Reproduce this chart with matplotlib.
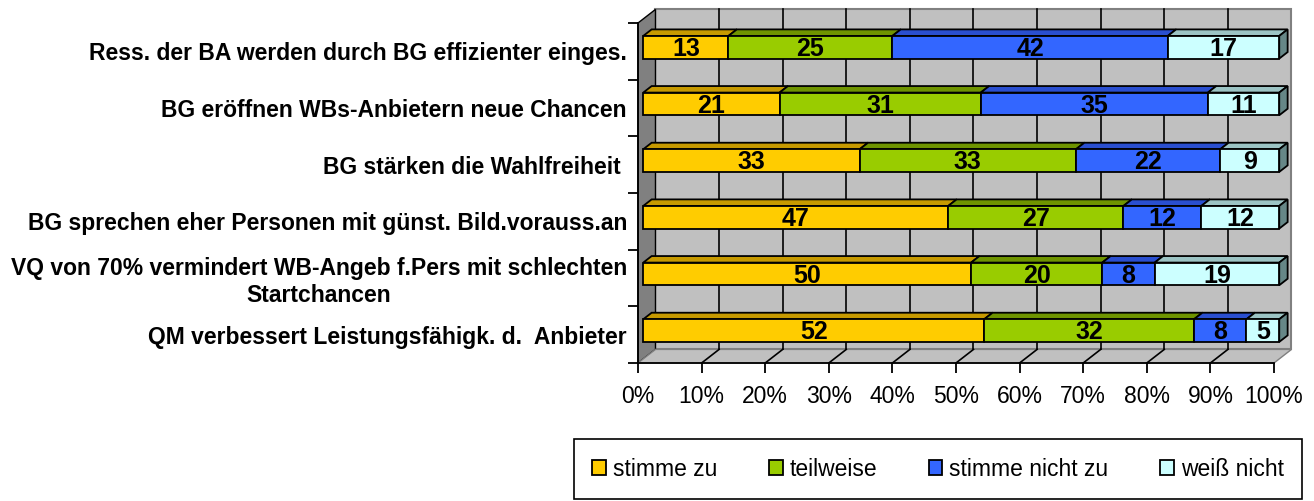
import matplotlib
matplotlib.use('agg')
import matplotlib.pyplot as plt
from matplotlib.patches import Polygon, Patch
import numpy as np

plt.rcParams['font.family'] = ['Liberation Sans', 'DejaVu Sans']

# statements, top to bottom as in the chart
categories = [
    'Ress. der BA werden durch BG effizienter einges.',
    'BG eröffnen WBs-Anbietern neue Chancen',
    'BG stärken die Wahlfreiheit ',
    'BG sprechen eher Personen mit günst. Bild.vorauss.an',
    'VQ von 70% vermindert WB-Angeb f.Pers mit schlechten\nStartchancen',
    'QM verbessert Leistungsfähigk. d.  Anbieter',
]
stimme_zu = [13, 21, 33, 47, 50, 52]
teilweise = [25, 31, 33, 27, 20, 32]
stimme_nicht_zu = [42, 35, 22, 12, 8, 8]
weiss_nicht = [17, 11, 9, 12, 19, 5]

series_names = ['stimme zu', 'teilweise', 'stimme nicht zu', 'weiß nicht']
front_cols = ['#FFCC00', '#99CC00', '#3366FF', '#CCFFFF']
top_cols = ['#C79A00', '#6F9400', '#2A4FD0', '#9CC4C4']
side_cols = ['#8A6E00', '#4F6A00', '#1D3A9A', '#668787']

xticks = np.arange(0, 101, 10)
xticklabels = [str(t) + '%' for t in xticks]

# 3d depth (in data units) and where the bars sit inside it
DX, DY = 2.75, 0.24
D0, D1 = 0.3, 0.78
BH = 0.4

fig = plt.figure(figsize=(13.14, 5.01), dpi=100)
ax = fig.add_axes([638/1314, 1-363/501, 636/1314, 340/501])
ax.set_xlim(0, 100)
ax.set_ylim(-0.5, 5.5)
ax.patch.set_visible(False)

n = len(categories)
ypos = np.arange(n)[::-1]

# walls + floor
ax.add_patch(Polygon([(DX, -0.5+DY), (100+DX, -0.5+DY), (100+DX, 5.5+DY), (DX, 5.5+DY)],
                     closed=True, fc='#C0C0C0', ec='#808080', lw=1.5, clip_on=False, zorder=0))
ax.add_patch(Polygon([(0, -0.5), (DX, -0.5+DY), (DX, 5.5+DY), (0, 5.5)],
                     closed=True, fc='#808080', ec='black', lw=1, clip_on=False, zorder=0))
ax.add_patch(Polygon([(0, -0.5), (100, -0.5), (100+DX, -0.5+DY), (DX, -0.5+DY)],
                     closed=True, fc='#C0C0C0', ec='#808080', lw=1, clip_on=False, zorder=0))
for t in xticks[1:-1]:
    ax.plot([t+DX, t+DX], [-0.5+DY, 5.5+DY], color='black', lw=1.2, clip_on=False, zorder=1)
    ax.plot([t, t+DX], [-0.5, -0.5+DY], color='black', lw=1.2, clip_on=False, zorder=1)

# stacked 100% bars with fake 3d faces
data = np.array([stimme_zu, teilweise, stimme_nicht_zu, weiss_nicht], dtype=float)
shares = data / data.sum(axis=0) * 100
for j in range(n):
    yc = ypos[j] + D0*DY
    y0, y1 = yc - BH/2, yc + BH/2
    left = D0*DX
    bdx, bdy = (D1-D0)*DX, (D1-D0)*DY
    for k in range(4):
        w = shares[k, j]
        x0, x1 = left, left + w
        ax.add_patch(Polygon([(x0, y1), (x1, y1), (x1+bdx, y1+bdy), (x0+bdx, y1+bdy)],
                             closed=True, fc=top_cols[k], ec='black', lw=1.3, clip_on=False, zorder=3))
        ax.barh(yc, w, left=x0, height=BH, color=front_cols[k], edgecolor='black',
                linewidth=1.3, clip_on=False, zorder=4)
        ax.text((x0+x1)/2, yc-0.03, str(int(data[k, j])), ha='center', va='center',
                fontsize=18, fontweight='bold', family=['Liberation Sans Narrow', 'Liberation Sans'],
                zorder=6)
        if k == 3:
            ax.add_patch(Polygon([(x1, y0), (x1+bdx, y0+bdy), (x1+bdx, y1+bdy), (x1, y1)],
                                 closed=True, fc=side_cols[k], ec='black', lw=1.3, clip_on=False, zorder=3))
        left = x1

# axes
for s in ['top', 'right']:
    ax.spines[s].set_visible(False)
for s in ['left', 'bottom']:
    ax.spines[s].set_color('black')
    ax.spines[s].set_linewidth(1.3)
    ax.spines[s].set_zorder(5)
ax.set_xticks(xticks)
ax.set_xticklabels(xticklabels, fontsize=16.5)
ax.tick_params(axis='x', length=7, width=1.3, pad=9)
ax.set_yticks(np.arange(-0.5, n, 1))
ax.set_yticklabels([])
ax.set_yticks(ypos, minor=True)
ax.set_yticklabels(categories, minor=True, fontsize=16.5, fontweight='bold', multialignment='center')
ax.tick_params(axis='y', which='major', length=7, width=1.3)
ax.tick_params(axis='y', which='minor', length=0, pad=8)

handles = [Patch(fc=c, ec='black', lw=1.3) for c in front_cols]
fig.legend(handles, series_names, loc='center', bbox_to_anchor=(938/1314, 1-469/501),
           ncol=4, fontsize=16.5, frameon=True, fancybox=False, edgecolor='black',
           handlelength=0.6, handleheight=0.6, handletextpad=0.3, columnspacing=2.25,
           borderpad=0.8, framealpha=1).get_frame().set_linewidth(1.2)

fig.savefig('out.png', dpi=100)
